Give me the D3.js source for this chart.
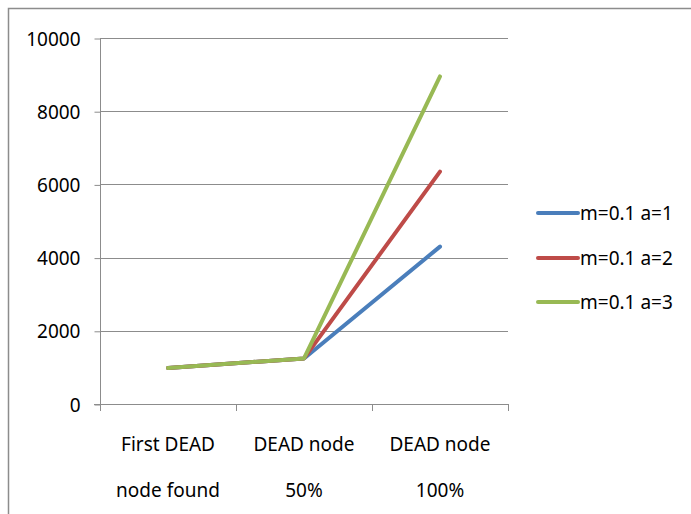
<!DOCTYPE html>
<html><head><meta charset="utf-8">
<script src="https://cdn.jsdelivr.net/npm/d3@7"></script>
<style>body{margin:0;background:#fff}svg{display:block}text{font-family:"Noto Sans","DejaVu Sans",sans-serif;fill:#000}</style>
</head><body><svg id="c" width="691" height="514"></svg>
<script>
const categories = [["First DEAD","node found"],["DEAD node","50%"],["DEAD node","100%"]];
const seriesNames = ["m=0.1 a=1","m=0.1 a=2","m=0.1 a=3"];
const seriesA1 = [985, 1245, 4300];
const seriesA2 = [985, 1245, 6350];
const seriesA3 = [985, 1245, 8950];
const yTicks = [0, 2000, 4000, 6000, 8000, 10000];
const colors = ["#4A7EBB", "#BE4B48", "#98B954"];

const series = [seriesA1, seriesA2, seriesA3];
const svg = d3.select("#c");
svg.append("rect").attr("x",8.5).attr("y",8.5).attr("width",720).attr("height",600)
  .attr("fill","none").attr("stroke","#8c8c8c").attr("stroke-width",1.5);

const keys = categories.map((d,i)=>i);
const x = d3.scalePoint().domain(keys).range([100,508]).padding(0.5);
const xb = d3.scaleBand().domain(keys).range([100,508]);
const y = d3.scaleLinear().domain([0,10000]).range([404,38]);

svg.append("g").selectAll("line").data(yTicks.filter(v=>v>0)).join("line")
  .attr("x1",100).attr("x2",508).attr("y1",d=>Math.round(y(d))+0.5).attr("y2",d=>Math.round(y(d))+0.5)
  .attr("stroke","#8c8c8c").attr("stroke-width",1);

const ya = svg.append("g").attr("transform","translate(100.5,0.5)")
  .call(d3.axisLeft(y).tickValues(yTicks).tickSize(6).tickPadding(14).tickFormat(d3.format("d")));
ya.select(".domain").attr("stroke","#8c8c8c").attr("d","M0,"+y(10000)+"V"+y(0));
ya.selectAll(".tick line").attr("stroke","#8c8c8c");
ya.selectAll(".tick text").style("font-size","19px").attr("dy","0.35em");

svg.append("line").attr("x1",94).attr("x2",508).attr("y1",404.5).attr("y2",404.5).attr("stroke","#8c8c8c");
const bounds = keys.map(k=>xb(k)).concat([xb(keys[keys.length-1])+xb.bandwidth()]);
svg.append("g").selectAll("line").data(bounds).join("line")
  .attr("x1",d=>Math.round(d)+0.5).attr("x2",d=>Math.round(d)+0.5).attr("y1",404).attr("y2",411)
  .attr("stroke","#8c8c8c");
const xl = svg.append("g").selectAll("text").data(keys).join("text")
  .attr("text-anchor","middle").attr("x",d=>x(d)).style("font-size","19px");
xl.append("tspan").attr("x",d=>x(d)).attr("y",451).text(d=>categories[d][0]);
xl.append("tspan").attr("x",d=>x(d)).attr("y",497).text(d=>categories[d][1]);

const line = d3.line().x((d,i)=>x(i)).y(d=>y(d));
series.forEach((s,i)=>{
  svg.append("path").datum(s).attr("d",line).attr("fill","none")
    .attr("stroke",colors[i]).attr("stroke-width",4).attr("stroke-linejoin","round").attr("stroke-linecap","round");
});

const legY = [213, 258, 302];
seriesNames.forEach((n,i)=>{
  svg.append("line").attr("x1",538).attr("x2",578).attr("y1",legY[i]).attr("y2",legY[i])
    .attr("stroke",colors[i]).attr("stroke-width",4).attr("stroke-linecap","round");
  svg.append("text").attr("x",580).attr("y",legY[i]).attr("dy","0.35em").style("font-size","19px").text(n);
});
</script></body></html>
